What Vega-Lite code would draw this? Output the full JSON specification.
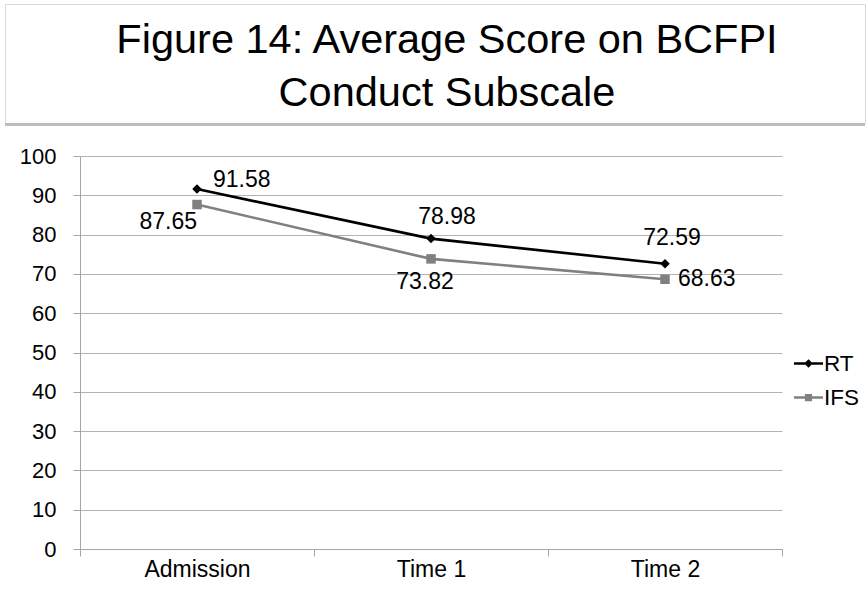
{
  "$schema": "https://vega.github.io/schema/vega-lite/v6.json",
  "padding": {"left": 4, "top": 3, "right": 0, "bottom": 0},
  "background": "white",
  "config": {"font": "Liberation Sans"},
  "spacing": 0,
  "bounds": "flush",
  "resolve": {"legend": {"color": "independent"}},
  "vconcat": [
    {
      "width": 860,
      "height": 119,
      "view": {"stroke": "#d9d9d9", "strokeWidth": 1, "fill": "white"},
      "title": {
        "text": ["Figure 14: Average Score on BCFPI", "Conduct Subscale"],
        "fontSize": 41.5,
        "font": "Liberation Sans",
        "fontWeight": "normal",
        "color": "black",
        "anchor": "middle",
        "frame": "group",
        "orient": "bottom",
        "baseline": "top",
        "offset": -103,
        "lineHeight": 53,
        "dx": 12
      },
      "data": {"values": []},
      "mark": {"type": "text"},
      "encoding": {}
    },
    {
      "width": 860,
      "height": 3,
      "view": {"stroke": null, "fill": "#bdbdbd"},
      "data": {"values": []},
      "mark": {"type": "text"},
      "encoding": {}
    },
    {
      "width": 860,
      "height": 30,
      "view": {"stroke": null, "fill": "white"},
      "data": {"values": []},
      "mark": {"type": "text"},
      "encoding": {}
    },
    {
      "spacing": 0,
      "bounds": "flush",
      "resolve": {"legend": {"color": "independent"}},
      "hconcat": [
        {
          "width": 75,
          "height": 393,
          "view": {"stroke": null, "fill": "white"},
          "data": {"values": []},
          "mark": {"type": "text"},
          "encoding": {}
        },
        {
          "width": 702,
          "height": 393,
          "view": {"stroke": null},
          "data": {
            "values": [
              {"time": "Admission", "series": "RT", "value": 91.58},
              {"time": "Time 1", "series": "RT", "value": 78.98},
              {"time": "Time 2", "series": "RT", "value": 72.59},
              {"time": "Admission", "series": "IFS", "value": 87.65},
              {"time": "Time 1", "series": "IFS", "value": 73.82},
              {"time": "Time 2", "series": "IFS", "value": 68.63}
            ]
          },
          "encoding": {
            "x": {
              "field": "time",
              "type": "nominal",
              "sort": ["Admission", "Time 1", "Time 2"],
              "scale": {"type": "band", "paddingInner": 0, "paddingOuter": 0},
              "axis": {
                "title": null,
                "tickBand": "extent",
                "grid": false,
                "labelAngle": 0,
                "tickSize": 7,
                "labelFontSize": 23,
                "labelFont": "Liberation Sans",
                "labelPadding": 2,
                "labelColor": "black",
                "domainColor": "#a6a6a6",
                "tickColor": "#a6a6a6"
              }
            },
            "y": {
              "field": "value",
              "type": "quantitative",
              "scale": {"domain": [0, 100], "nice": false},
              "axis": {
                "title": null,
                "values": [0, 10, 20, 30, 40, 50, 60, 70, 80, 90, 100],
                "grid": true,
                "gridColor": "#b3b3b3",
                "domainColor": "#a6a6a6",
                "tickColor": "#a6a6a6",
                "tickSize": 7,
                "labelFontSize": 22,
                "labelFont": "Liberation Sans",
                "labelColor": "black",
                "labelPadding": 17
              }
            },
            "color": {
              "field": "series",
              "type": "nominal",
              "scale": {"domain": ["RT", "IFS"], "range": ["#000000", "#808080"]},
              "legend": {
                "title": null,
                "orient": "none",
                "legendX": 714,
                "legendY": 193,
                "symbolSize": 841,
                "labelFontSize": 22.5,
                "labelFont": "Liberation Sans",
                "labelColor": "black",
                "labelOffset": 1,
                "rowPadding": 8,
                "padding": 0,
                "symbolStrokeWidth": 0,
                "encode": {
                  "symbols": {
                    "update": {
                      "shape": {"signal": "datum.value === 'RT' ? 'M-1,-0.09L1,-0.09L1,0.09L-1,0.09Z M0,-0.3L0.3,0L0,0.3L-0.3,0Z' : 'M-1,-0.09L1,-0.09L1,0.09L-1,0.09Z M-0.25,-0.25L0.25,-0.25L0.25,0.25L-0.25,0.25Z'"},
                      "fill": {"signal": "datum.value === 'RT' ? '#000000' : '#808080'"},
                      "opacity": {"value": 1},
                      "strokeWidth": {"value": 0}
                    }
                  }
                }
              }
            }
          },
          "layer": [
            {"mark": {"type": "line", "strokeWidth": 2.6}},
            {
              "mark": {"type": "point", "filled": true, "opacity": 1, "size": 90},
              "encoding": {
                "shape": {
                  "field": "series",
                  "type": "nominal",
                  "scale": {"domain": ["RT", "IFS"], "range": ["diamond", "square"]},
                  "legend": null
                }
              }
            },
            {
              "transform": [{"filter": "datum.series === 'RT' && datum.time === 'Admission'"}],
              "mark": {"type": "text", "align": "left", "baseline": "middle", "dx": 16, "dy": -9, "fontSize": 23},
              "encoding": {"text": {"field": "value", "format": ".2f"}, "color": {"value": "black"}}
            },
            {
              "transform": [{"filter": "datum.series === 'IFS' && datum.time === 'Admission'"}],
              "mark": {"type": "text", "align": "right", "baseline": "middle", "dx": 0, "dy": 17, "fontSize": 23},
              "encoding": {"text": {"field": "value", "format": ".2f"}, "color": {"value": "black"}}
            },
            {
              "transform": [{"filter": "datum.series === 'RT' && datum.time === 'Time 1'"}],
              "mark": {"type": "text", "align": "center", "baseline": "middle", "dx": 16, "dy": -22, "fontSize": 23},
              "encoding": {"text": {"field": "value", "format": ".2f"}, "color": {"value": "black"}}
            },
            {
              "transform": [{"filter": "datum.series === 'IFS' && datum.time === 'Time 1'"}],
              "mark": {"type": "text", "align": "center", "baseline": "middle", "dx": -6, "dy": 23, "fontSize": 23},
              "encoding": {"text": {"field": "value", "format": ".2f"}, "color": {"value": "black"}}
            },
            {
              "transform": [{"filter": "datum.series === 'RT' && datum.time === 'Time 2'"}],
              "mark": {"type": "text", "align": "center", "baseline": "middle", "dx": 7, "dy": -26, "fontSize": 23},
              "encoding": {"text": {"field": "value", "format": ".2f"}, "color": {"value": "black"}}
            },
            {
              "transform": [{"filter": "datum.series === 'IFS' && datum.time === 'Time 2'"}],
              "mark": {"type": "text", "align": "left", "baseline": "middle", "dx": 13, "dy": 0, "fontSize": 23},
              "encoding": {"text": {"field": "value", "format": ".2f"}, "color": {"value": "black"}}
            }
          ]
        }
      ]
    }
  ]
}
